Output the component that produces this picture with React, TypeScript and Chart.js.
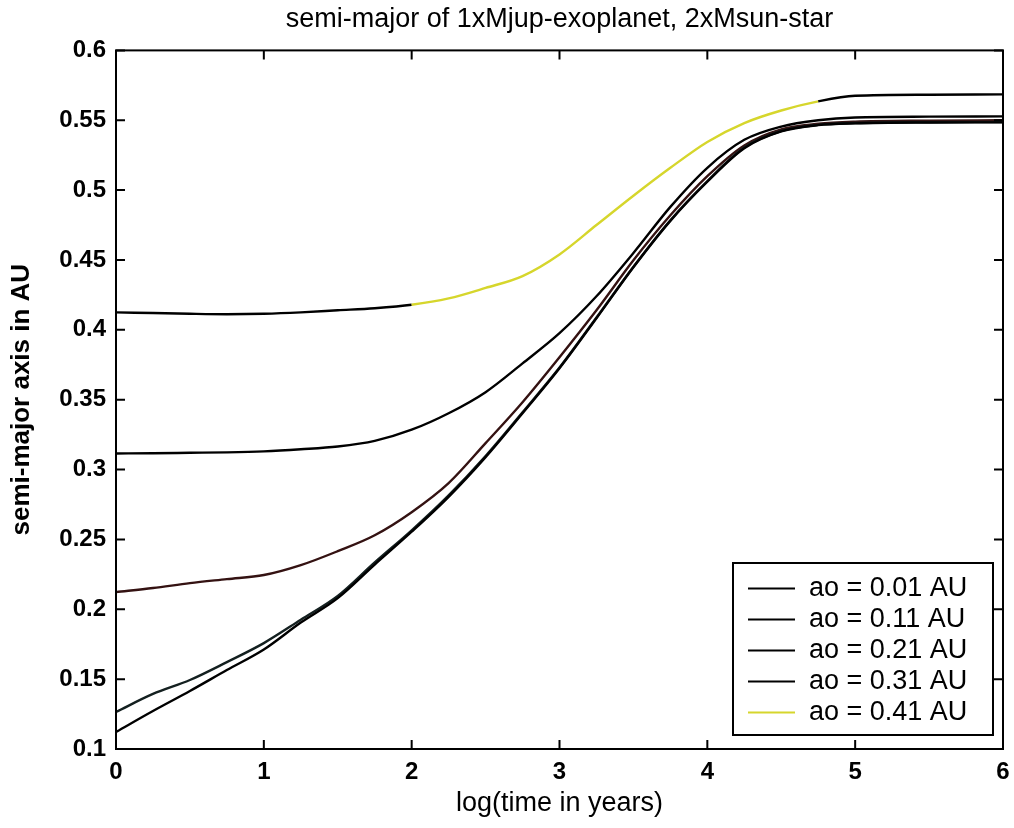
import React, { useEffect, useRef } from "react";
import { Chart, registerables } from "chart.js";
Chart.register(...registerables);

const xValues = [0, 0.25, 0.5, 0.75, 1, 1.25, 1.5, 1.75, 2, 2.25, 2.5, 2.75, 3, 3.25, 3.5, 3.75, 4, 4.25, 4.5, 4.75, 5, 5.5, 6];

const ao001 = [0.1122, 0.1272, 0.1415, 0.1565, 0.1712, 0.1905, 0.208, 0.232, 0.2555, 0.2805, 0.3089, 0.3403, 0.3725, 0.4083, 0.4448, 0.478, 0.506, 0.530, 0.542, 0.5465, 0.5478, 0.5484, 0.5485];
const ao011 = [0.1265, 0.1394, 0.1494, 0.1622, 0.1758, 0.1925, 0.2095, 0.2335, 0.2565, 0.2815, 0.3097, 0.341, 0.373, 0.4088, 0.4452, 0.4785, 0.5065, 0.5305, 0.5423, 0.5467, 0.548, 0.5486, 0.5487];
const ao021 = [0.2123, 0.2152, 0.2187, 0.2216, 0.2245, 0.2316, 0.2416, 0.253, 0.2695, 0.2903, 0.3189, 0.3482, 0.3804, 0.414, 0.4498, 0.482, 0.51, 0.532, 0.5435, 0.5475, 0.549, 0.5497, 0.55];
const ao031 = [0.3115, 0.3117, 0.312, 0.3123, 0.313, 0.3145, 0.3165, 0.3205, 0.3285, 0.3403, 0.3554, 0.376, 0.3976, 0.424, 0.455, 0.488, 0.516, 0.536, 0.5455, 0.55, 0.552, 0.5526, 0.5528];
const ao041 = [0.4125, 0.412, 0.4115, 0.4112, 0.4115, 0.4125, 0.414, 0.4155, 0.418, 0.4225, 0.43, 0.4385, 0.454, 0.475, 0.496, 0.516, 0.5345, 0.548, 0.557, 0.5635, 0.5675, 0.5683, 0.5685];

const seriesLabels = ["ao = 0.01 AU", "ao = 0.11 AU", "ao = 0.21 AU", "ao = 0.31 AU", "ao = 0.41 AU"];
const xTicks = [0, 1, 2, 3, 4, 5, 6];
const xTickLabels = ["0", "1", "2", "3", "4", "5", "6"];
const yTicks = [0.1, 0.15, 0.2, 0.25, 0.3, 0.35, 0.4, 0.45, 0.5, 0.55, 0.6];
const yTickLabels = ["0.1", "0.15", "0.2", "0.25", "0.3", "0.35", "0.4", "0.45", "0.5", "0.55", "0.6"];

const titleText = "semi-major of 1xMjup-exoplanet, 2xMsun-star";
const xTitle = "log(time in years)";
const yTitle = "semi-major axis in AU";

const FONT = "'Liberation Sans', Arial, Helvetica, sans-serif";
const YELLOW = "#d6d62c";
const lineColors = ["#000000", "#142020", "#341212", "#000000", YELLOW];

const boxPlugin = {
  id: "boxTicks",
  afterDatasetsDraw(chart: any) {
    const { ctx, chartArea } = chart;
    const { left, right, top, bottom } = chartArea;
    const xs = chart.scales.x;
    const ys = chart.scales.y;
    const tl = 9;
    ctx.save();
    ctx.strokeStyle = "#000";
    ctx.lineWidth = 2;
    ctx.beginPath();
    for (const v of xTicks) {
      const px = xs.getPixelForValue(v);
      ctx.moveTo(px, bottom);
      ctx.lineTo(px, bottom - tl);
      ctx.moveTo(px, top);
      ctx.lineTo(px, top + tl);
    }
    for (const v of yTicks) {
      const py = ys.getPixelForValue(v);
      ctx.moveTo(left, py);
      ctx.lineTo(left + tl, py);
      ctx.moveTo(right, py);
      ctx.lineTo(right - tl, py);
    }
    ctx.stroke();
    ctx.strokeRect(left, top, right - left, bottom - top);
    ctx.restore();
  },
};

const legendPlugin = {
  id: "insideLegend",
  afterDraw(chart: any) {
    const { ctx, chartArea } = chart;
    const boxRight = chartArea.right - 10;
    const boxBottom = chartArea.bottom - 14;
    const boxW = 260;
    const rowH = 31;
    const n = chart.data.datasets.length;
    const boxH = n * rowH + 17;
    const boxLeft = boxRight - boxW;
    const boxTop = boxBottom - boxH;
    ctx.save();
    ctx.fillStyle = "#fff";
    ctx.fillRect(boxLeft, boxTop, boxW, boxH);
    ctx.strokeStyle = "#000";
    ctx.lineWidth = 2;
    ctx.strokeRect(boxLeft, boxTop, boxW, boxH);
    ctx.font = `27px ${FONT}`;
    ctx.textBaseline = "middle";
    ctx.textAlign = "left";
    chart.data.datasets.forEach((ds: any, i: number) => {
      const cy = boxTop + 8 + rowH * (i + 0.5) + 2;
      ctx.strokeStyle = i === 4 ? YELLOW : "#000";
      ctx.lineWidth = 2;
      ctx.beginPath();
      ctx.moveTo(boxLeft + 15, cy);
      ctx.lineTo(boxLeft + 62, cy);
      ctx.stroke();
      ctx.fillStyle = "#000";
      ctx.fillText(ds.label, boxLeft + 76, cy);
    });
    ctx.restore();
  },
};

export default function App() {
  const ref = useRef<HTMLCanvasElement | null>(null);
  useEffect(() => {
    if (!ref.current) return;
    const mk = (vals: number[]) => vals.map((v, i) => ({ x: xValues[i], y: v }));
    const allSeries = [ao001, ao011, ao021, ao031, ao041];
    const datasets: any[] = allSeries.map((s, i) => ({
      label: seriesLabels[i],
      data: mk(s),
      borderColor: lineColors[i],
      borderWidth: 2.4,
      pointRadius: 0,
      fill: false,
      cubicInterpolationMode: "monotone",
    }));
    datasets[4].segment = {
      borderColor: (c: any) =>
        c.p0.parsed.x >= 1.9 && c.p1.parsed.x <= 4.8 ? YELLOW : "#000000",
    };
    const chart = new Chart(ref.current, {
      type: "line",
      data: { datasets },
      plugins: [boxPlugin, legendPlugin],
      options: {
        animation: false,
        responsive: true,
        maintainAspectRatio: false,
        layout: { padding: { left: 0, right: 0, top: 0, bottom: 0 } },
        plugins: {
          legend: { display: false },
          tooltip: { enabled: false },
          title: {
            display: true,
            fullSize: false,
            text: titleText,
            color: "#000",
            font: { family: FONT, size: 27, weight: "normal" },
            padding: { top: 3, bottom: 15 },
          },
        },
        scales: {
          x: {
            type: "linear",
            min: 0,
            max: 6,
            afterFit: (s: any) => { s.height = 79; s.paddingRight = 11; s.paddingLeft = 0; },
            afterBuildTicks: (s: any) => { s.ticks = xTicks.map((v) => ({ value: v })); },
            grid: { display: false, drawTicks: false },
            border: { display: false },
            ticks: {
              color: "#000",
              padding: 9,
              maxRotation: 0,
              autoSkip: false,
              font: { family: FONT, size: 24, weight: "bold" },
              callback: (_v: any, i: number) => xTickLabels[i],
            },
            title: {
              display: true,
              text: xTitle,
              color: "#000",
              font: { family: FONT, size: 27, weight: "normal" },
              padding: { top: 0, bottom: 8 },
            },
          },
          y: {
            type: "linear",
            min: 0.1,
            max: 0.6,
            afterFit: (s: any) => { s.width = 116; },
            afterBuildTicks: (s: any) => { s.ticks = yTicks.map((v) => ({ value: v })); },
            grid: { display: false, drawTicks: false },
            border: { display: false },
            ticks: {
              color: "#000",
              padding: 10,
              autoSkip: false,
              font: { family: FONT, size: 24, weight: "bold" },
              callback: (_v: any, i: number) => yTickLabels[i],
            },
            title: {
              display: true,
              text: yTitle,
              color: "#000",
              font: { family: FONT, size: 26, weight: "bold" },
              padding: { top: 6, bottom: 0 },
            },
          },
        },
      },
    });
    return () => chart.destroy();
  }, []);
  return (
    <div style={{ position: "absolute", left: 0, top: 0, width: 1014, height: 828, background: "#fff" }}>
      <canvas ref={ref} />
    </div>
  );
}
